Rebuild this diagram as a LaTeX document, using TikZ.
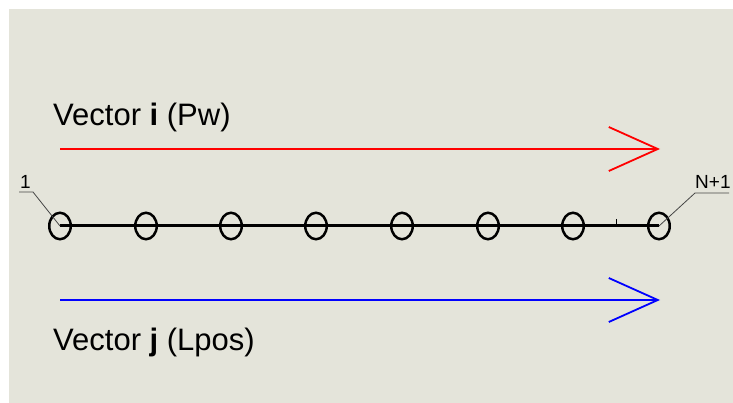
\documentclass[tikz,border=0pt]{standalone}
\usepackage{fontspec}
\setmainfont{Liberation Sans}
\usetikzlibrary{arrows.meta,shapes.geometric}
\definecolor{bg}{RGB}{228,228,218}
\definecolor{leadc}{RGB}{70,70,70}
\tikzset{
  ring/.style={draw=black, ellipse, line width=2.5pt, minimum width=21.5pt, minimum height=26.5pt, inner sep=0pt},
  chain/.style={draw=black, line width=3pt},
  vecarrow/.style={line width=1.8pt, -{Straight Barb[length=49pt,width=44pt,line width=1.8pt]}},
  leader/.style={draw=leadc, line width=0.8pt},
  bigtext/.style={font=\fontsize{31}{37}\selectfont, anchor=base west, inner sep=0pt},
  smalltext/.style={font=\fontsize{19}{22}\selectfont, anchor=base west, inner sep=0pt}
}
\begin{document}
\begin{tikzpicture}[x=1pt,y=-1pt]
\useasboundingbox (0,0) rectangle (733,403);
\fill[bg] (9,9) rectangle (733,403);

% texts
\node[bigtext] (ti) at (53,126) {Vector \textbf{i} (Pw)};
\node[bigtext] (tj) at (53,350) {Vector \textbf{j} (Lpos)};

% arrows
\coordinate (ra) at (60,149);
\coordinate (rb) at (660,149);
\coordinate (ba) at (60,300);
\coordinate (bb) at (660,300);
\draw[vecarrow, red] (ra) -- (rb);
\draw[vecarrow, blue] (ba) -- (bb);

% nodes
\foreach \i/\x in {1/60,2/146,3/231,4/316,5/402,6/488,7/573,8/659}{
  \node[ring] (c\i) at (\x,226) {};
}
\draw[chain] (c1.center) -- (c8.center);
\coordinate (tka) at (616,219);
\coordinate (tkb) at (616,226);
\draw[black, line width=1pt] (tka) -- (tkb);

% leaders
\node[smalltext] (n1) at (20,189) {1};
\coordinate (u1a) at (19,192);
\coordinate (u1b) at (33,192);
\draw[leader] (u1a) -- (u1b) -- (c1.center);

\node[smalltext] (nN) at (695,189) {N+1};
\coordinate (uNa) at (729,193);
\coordinate (uNb) at (695,193);
\draw[leader] (uNa) -- (uNb) -- (c8.center);
\end{tikzpicture}
\end{document}
